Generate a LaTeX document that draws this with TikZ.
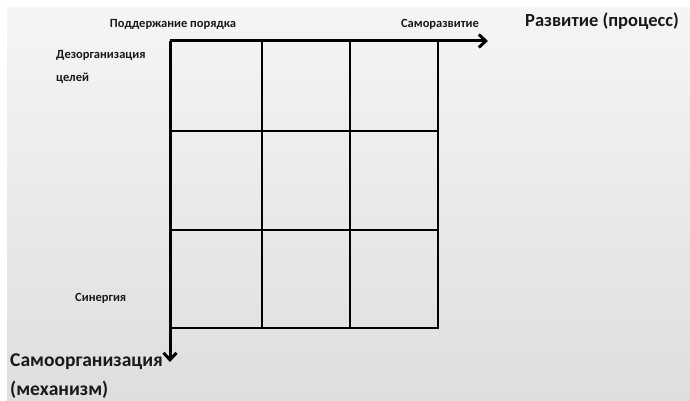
\documentclass[tikz,border=0pt]{standalone}
\usepackage{fontspec}
\setmainfont{Carlito}
\usetikzlibrary{arrows.meta}
\begin{document}
\begin{tikzpicture}[x=1pt,y=-1pt,
  gridline/.style={line width=2.8pt, line cap=rect},
  axis/.style={line width=3pt, -{Straight Barb[length=7pt,width=13pt,line width=3pt]}},
  small/.style={font=\bfseries\fontsize{12.5}{15}\selectfont, inner sep=0pt, text=black!90},
  big/.style={font=\bfseries\fontsize{19.5}{24}\selectfont, inner sep=0pt, text=black!90}]
\useasboundingbox (0,0) rectangle (690,401);
\fill[white] (0,0) rectangle (690,401);
\shade[top color=black!4, bottom color=black!13] (7,8) rectangle (690,401);
% grid coordinates
\coordinate (o) at (170,41);
\coordinate (c1) at (262,41);
\coordinate (c2) at (350,41);
\coordinate (c3) at (438,41);
\coordinate (b0) at (170,328);
\coordinate (b1) at (262,328);
\coordinate (b2) at (350,328);
\coordinate (b3) at (438,328);
\coordinate (r1l) at (170,131);
\coordinate (r1r) at (438,131);
\coordinate (r2l) at (170,230);
\coordinate (r2r) at (438,230);
\coordinate (xend) at (488,41);
\coordinate (yend) at (170,362);
\draw[gridline] (c1) -- (b1);
\draw[gridline] (c2) -- (b2);
\draw[gridline] (c3) -- (b3);
\draw[gridline] (r1l) -- (r1r);
\draw[gridline] (r2l) -- (r2r);
\draw[gridline] (b0) -- (b3);
\draw[axis] (o) -- (xend);
\draw[axis] (o) -- (yend);
% labels
\node[small, anchor=base] (pp) at (173,28) {Поддержание порядка};
\node[small, anchor=base] (sr) at (440,28) {Саморазвитие};
\node[small, anchor=base west] (dz) at (56,59) {Дезорганизация};
\node[small, anchor=base west] (cl) at (56,82) {целей};
\node[small, anchor=base west] (sn) at (75,301) {Синергия};
\node[big, font=\bfseries\fontsize{18.5}{24}\selectfont, anchor=base west] (rz) at (525,27) {Развитие (процесс)};
\node[big, anchor=base west] (so) at (10,366) {Самоорганизация};
\node[big, anchor=base west] (mh) at (10,395) {(механизм)};
\end{tikzpicture}
\end{document}
